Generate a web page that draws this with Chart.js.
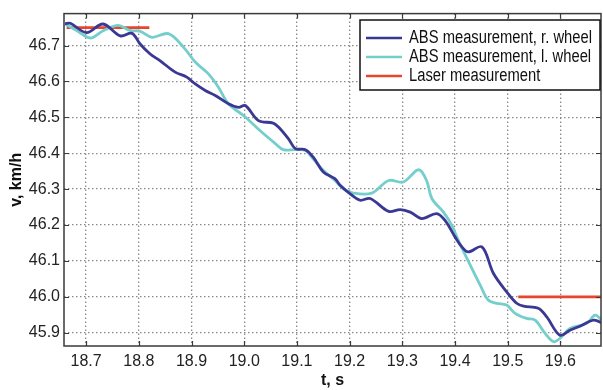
<!DOCTYPE html>
<html><head><meta charset="utf-8">
<script src="https://cdn.jsdelivr.net/npm/chart.js@4/dist/chart.umd.min.js"></script>
<style>html,body{margin:0;padding:0;background:#fff}</style>
</head><body>
<canvas id="c" width="603" height="390"></canvas>
<script>
// ---- data ----
const seriesLabels = ["ABS measurement, r. wheel", "ABS measurement, l. wheel", "Laser measurement"];
const xTickValues = [18.7, 18.8, 18.9, 19.0, 19.1, 19.2, 19.3, 19.4, 19.5, 19.6];
const yTickValues = [45.9, 46.0, 46.1, 46.2, 46.3, 46.4, 46.5, 46.6, 46.7];

const rightT = [18.660,18.670,18.701,18.732,18.765,18.787,18.802,18.821,18.840,18.869,18.891,18.907,18.926,18.945,18.970,18.989,19.002,19.027,19.055,19.065,19.084,19.097,19.116,19.131,19.150,19.172,19.182,19.201,19.220,19.239,19.274,19.296,19.315,19.337,19.365,19.381,19.400,19.413,19.425,19.451,19.473,19.498,19.517,19.530,19.558,19.574,19.599,19.618,19.637,19.663,19.681];
const rightV = [46.761,46.762,46.736,46.760,46.727,46.734,46.705,46.677,46.658,46.626,46.612,46.593,46.575,46.561,46.538,46.528,46.533,46.491,46.484,46.473,46.440,46.413,46.410,46.389,46.348,46.329,46.311,46.287,46.269,46.274,46.238,46.243,46.236,46.218,46.232,46.213,46.167,46.139,46.125,46.139,46.065,46.014,45.982,45.974,45.968,45.944,45.893,45.907,45.918,45.935,45.926];

const leftT = [18.660,18.682,18.708,18.733,18.761,18.783,18.802,18.825,18.856,18.885,18.907,18.932,18.951,18.970,19.002,19.033,19.059,19.074,19.097,19.116,19.128,19.147,19.172,19.188,19.207,19.242,19.274,19.302,19.331,19.346,19.356,19.378,19.394,19.406,19.429,19.448,19.463,19.479,19.498,19.514,19.536,19.552,19.571,19.587,19.599,19.618,19.650,19.666,19.681];
const leftV = [46.760,46.742,46.721,46.742,46.756,46.742,46.740,46.723,46.733,46.695,46.654,46.621,46.584,46.538,46.501,46.459,46.427,46.410,46.410,46.408,46.389,46.357,46.324,46.301,46.289,46.289,46.324,46.320,46.354,46.324,46.274,46.236,46.199,46.158,46.088,46.032,45.991,45.982,45.977,45.954,45.940,45.935,45.898,45.875,45.884,45.912,45.926,45.949,45.930];

const laserT = [18.663, 18.820, 19.200, 19.520, 19.680];
const laserV = [46.75, 46.75, null, 46.00, 46.00];

// ---- styling ----
const colors = ["#3b3894", "#74cfcc", "#e8452f"];
const FONT = "'Liberation Sans', Arial, sans-serif";

function pts(t, v) { return t.map((x, i) => ({ x: x, y: v[i] })); }

const framePlugin = {
  id: 'frame',
  afterDraw(chart) {
    const ctx = chart.ctx, a = chart.chartArea;
    const xs = chart.scales.x, ys = chart.scales.y;
    ctx.save();
    ctx.strokeStyle = '#3a3a3a';
    ctx.lineWidth = 1.5;
    ctx.strokeRect(a.left, a.top, a.right - a.left, a.bottom - a.top);
    ctx.lineWidth = 1.2;
    ctx.beginPath();
    xTickValues.forEach(v => {
      const px = Math.round(xs.getPixelForValue(v)) + 0.5;
      ctx.moveTo(px, a.top); ctx.lineTo(px, a.top + 5);
      ctx.moveTo(px, a.bottom); ctx.lineTo(px, a.bottom - 5);
    });
    yTickValues.forEach(v => {
      const py = Math.round(ys.getPixelForValue(v)) + 0.5;
      ctx.moveTo(a.left, py); ctx.lineTo(a.left + 5, py);
      ctx.moveTo(a.right, py); ctx.lineTo(a.right - 5, py);
    });
    ctx.stroke();

    // legend box
    const bx = 360, by = 20, bw = 240, bh = 70;
    ctx.fillStyle = '#fff';
    ctx.fillRect(bx, by, bw, bh);
    ctx.strokeStyle = '#111';
    ctx.lineWidth = 1.5;
    ctx.strokeRect(bx, by, bw, bh);
    chart.data.datasets.forEach((ds, i) => {
      const y = by + 18 + i * 19;
      ctx.strokeStyle = ds.borderColor;
      ctx.lineWidth = 2.5;
      ctx.beginPath(); ctx.moveTo(bx + 6, y); ctx.lineTo(bx + 42, y); ctx.stroke();
      ctx.save();
      ctx.translate(bx + 49, y);
      ctx.scale(0.82, 1);
      ctx.font = "18px " + FONT;
      ctx.textBaseline = 'middle';
      ctx.fillStyle = '#111';
      ctx.fillText(ds.label, 0, 0);
      ctx.restore();
    });
    ctx.restore();
  }
};

new Chart(document.getElementById('c'), {
  type: 'line',
  data: {
    datasets: [
      { label: seriesLabels[0], data: pts(rightT, rightV), borderColor: colors[0], borderWidth: 2.8, pointRadius: 0, tension: 0.35, fill: false },
      { label: seriesLabels[1], data: pts(leftT, leftV), borderColor: colors[1], borderWidth: 2.8, pointRadius: 0, tension: 0.35, fill: false },
      { label: seriesLabels[2], data: pts(laserT, laserV), borderColor: colors[2], borderWidth: 2.8, pointRadius: 0, tension: 0, spanGaps: false, fill: false }
    ]
  },
  options: {
    responsive: false,
    animation: false,
    devicePixelRatio: 1,
    layout: { padding: { top: 13, right: 2, left: 0, bottom: 0 } },
    plugins: { legend: { display: false }, tooltip: { enabled: false } },
    scales: {
      x: {
        type: 'linear',
        min: 18.658, max: 19.677,
        afterBuildTicks: s => { s.ticks = xTickValues.map(v => ({ value: v })); },
        afterFit: s => { s.height = 44; },
        ticks: { callback: v => Number(v).toFixed(1), color: '#222', font: { family: FONT, size: 16 }, padding: 6, maxRotation: 0, autoSkip: false },
        grid: { color: '#8a8a8a', lineWidth: 1.3, drawTicks: false },
        border: { display: false, dash: [1.5, 2.5] },
        title: { display: true, text: 't, s', color: '#111', font: { family: FONT, size: 16, weight: 'bold', lineHeight: 1 }, padding: { top: 0, bottom: 1 } }
      },
      y: {
        type: 'linear',
        min: 45.863, max: 46.789,
        afterBuildTicks: s => { s.ticks = yTickValues.map(v => ({ value: v })); },
        afterFit: s => { s.width = 64; },
        ticks: { callback: v => Number(v).toFixed(1), color: '#222', font: { family: FONT, size: 16 }, padding: 4, autoSkip: false },
        grid: { color: '#8a8a8a', lineWidth: 1.3, drawTicks: false },
        border: { display: false, dash: [1.5, 2.5] },
        title: { display: true, text: 'v, km/h', color: '#111', font: { family: FONT, size: 16, weight: 'bold', lineHeight: 1 }, padding: { top: 9, bottom: 0 } }
      }
    }
  },
  plugins: [framePlugin]
});
</script>
</body></html>
